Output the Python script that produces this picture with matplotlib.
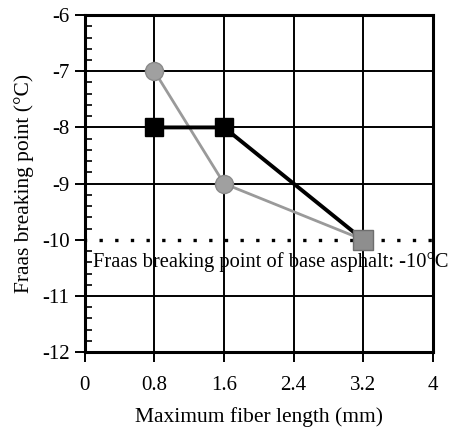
import matplotlib
matplotlib.use("Agg")
import matplotlib.pyplot as plt
from matplotlib.ticker import MultipleLocator

# fiber length (mm) and Fraas breaking point (deg C)
fiber_len = [0.8, 1.6, 3.2]
series_square = [-8, -8, -10]
series_circle = [-7, -9, -10]
base_value = -10
base_label = "Fraas breaking point of base asphalt: -10\u00b0C"

x_ticks = [0, 0.8, 1.6, 2.4, 3.2, 4]
x_ticklabels = ["0", "0.8", "1.6", "2.4", "3.2", "4"]
y_ticks = [-12, -11, -10, -9, -8, -7, -6]

plt.rcParams['font.family'] = ['Liberation Serif', 'DejaVu Serif']
plt.rcParams['axes.unicode_minus'] = False

fig = plt.figure(figsize=(4.61, 4.30), dpi=100)
ax = fig.add_axes([0.184, 0.181, 0.755, 0.784])

ax.set_xlim(0, 4)
ax.set_ylim(-12, -6)
ax.set_xticks(x_ticks)
ax.set_xticklabels(x_ticklabels)
ax.set_yticks(y_ticks)
ax.yaxis.set_minor_locator(MultipleLocator(0.2))
ax.grid(True, which='major', color='black', linewidth=1.4)
ax.set_axisbelow(True)
# no solid grid line where the dotted reference line sits
for t, gl in zip(y_ticks, ax.yaxis.get_gridlines()):
    if t == base_value:
        gl.set_visible(False)

for s in ax.spines.values():
    s.set_linewidth(2.2)

ax.tick_params(axis='both', which='major', direction='out', length=7,
               width=1.4, labelsize=15)
ax.tick_params(axis='x', which='major', pad=10)
ax.tick_params(axis='y', which='major', pad=4)
ax.tick_params(axis='y', which='minor', direction='in', length=5, width=1.2)

# base asphalt reference
ax.axhline(base_value, color='black', linestyle=(0.5, (1, 3.7)),
           linewidth=2.4, zorder=2)
ax.text(0.09, base_value - 0.39, base_label, fontsize=14.8, va='center',
        ha='left', zorder=5)

# gray circles
ax.plot(fiber_len, series_circle, color='#9a9a9a', linewidth=2.0,
        marker='o', markersize=13, markerfacecolor='#a0a0a0',
        markeredgecolor='#8a8a8a', markeredgewidth=1, zorder=3)

# black squares
ax.plot(fiber_len, series_square, color='black', linewidth=2.8,
        marker='s', markersize=13, markevery=[0, 1], zorder=4)
ax.plot(fiber_len[-1:], series_square[-1:], linestyle='none', marker='s',
        markersize=14, markerfacecolor='#8e8e8e', markeredgecolor='#6e6e6e',
        markeredgewidth=1, zorder=4)

ax.set_xlabel("Maximum fiber length (mm)", fontsize=15.5, labelpad=9)
ax.set_ylabel("Fraas breaking point (\u00b0C)", fontsize=15.5, labelpad=6)

fig.savefig("out.png", dpi=100)
